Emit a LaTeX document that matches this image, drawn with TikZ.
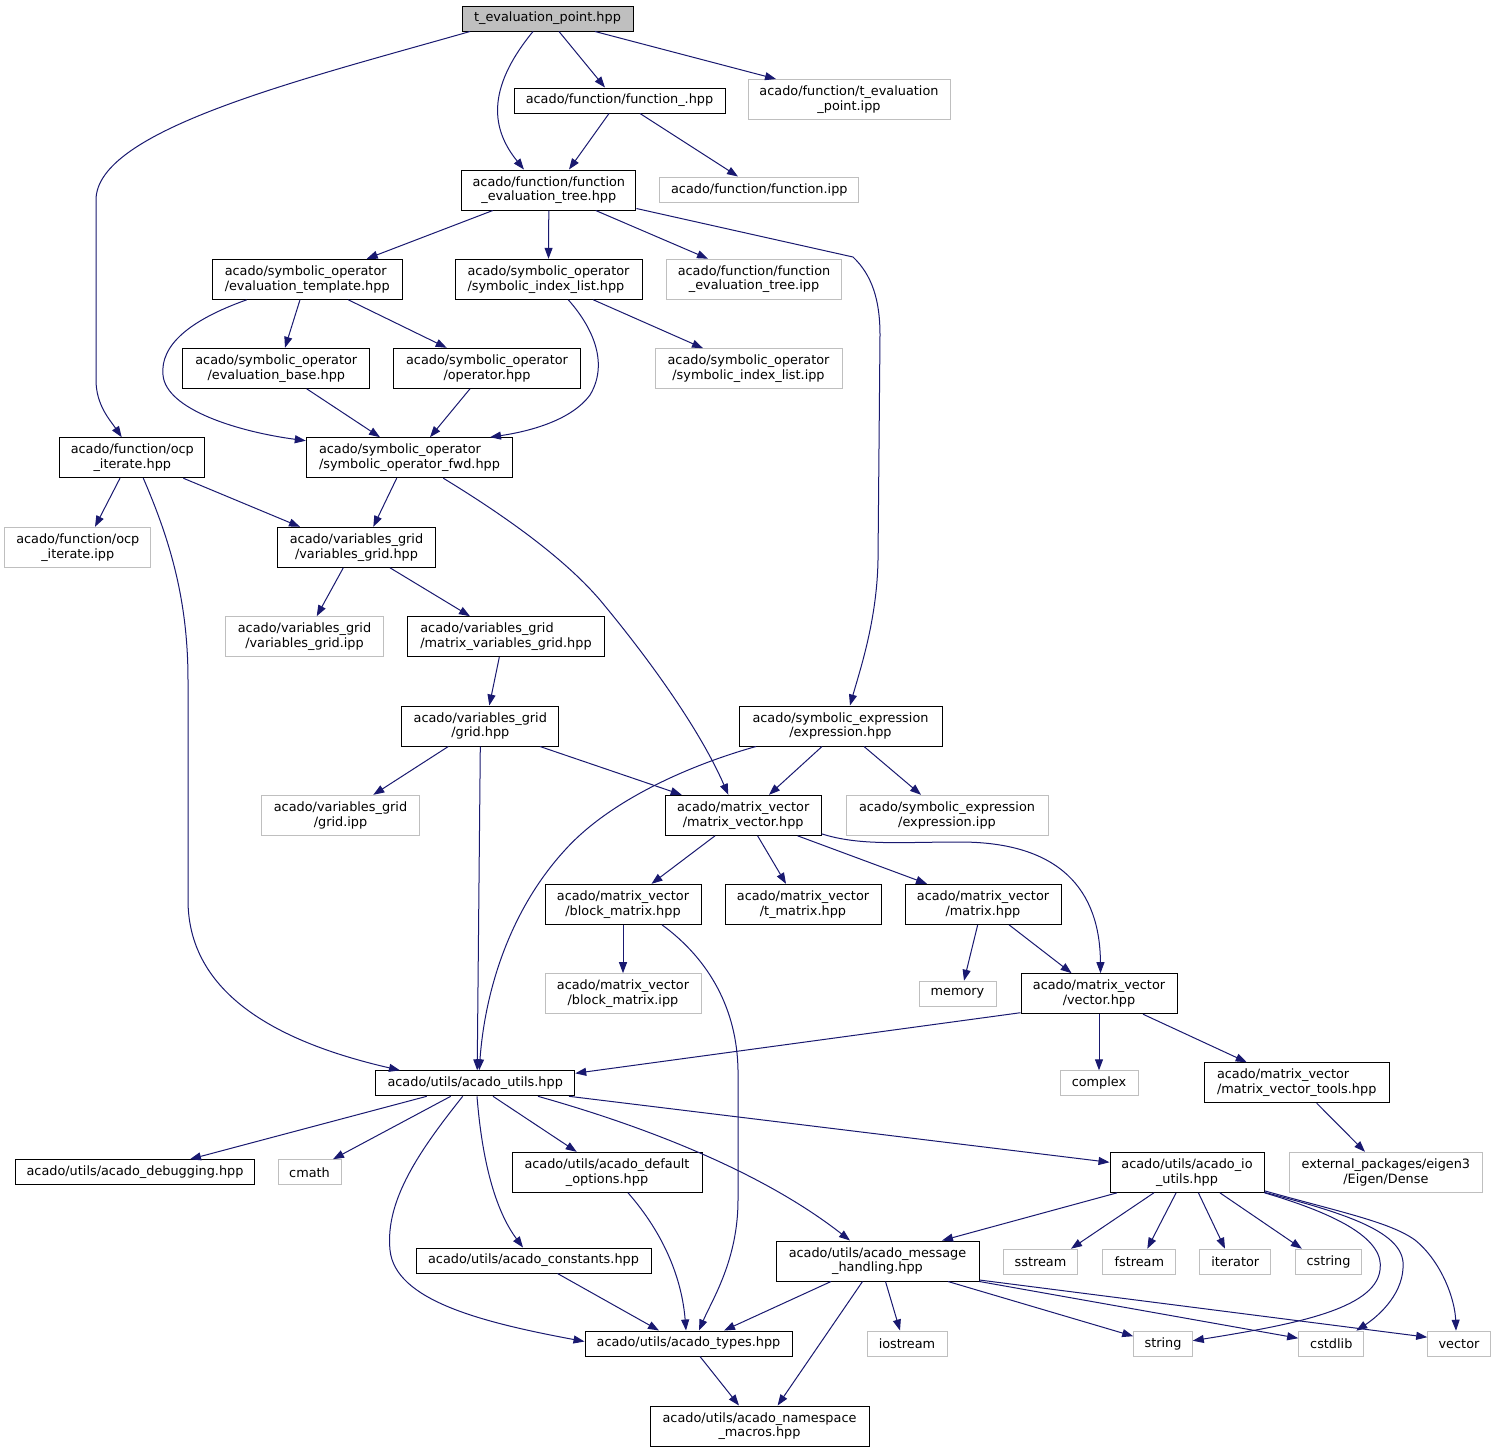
\documentclass[tikz,border=0pt]{standalone}
\usepackage{fontspec}
\setmainfont{DejaVu Sans}
\usetikzlibrary{arrows.meta}
\definecolor{edgecol}{HTML}{191970}
\definecolor{graybd}{HTML}{BFBFBF}
\definecolor{hdrfill}{HTML}{BFBFBF}
\newcommand\myfs{\fontsize{12.85}{14.7}\selectfont}
\newcommand\mkbox[7]{\node[#1,minimum width=#5pt,minimum height=#6pt] (#2) at (#3,#4) {#7};}
\tikzset{
  hdr/.style={draw=black, fill=hdrfill, line width=1pt, inner sep=0pt, font=\myfs, align=center},
  blk/.style={draw=black, fill=white, line width=1pt, inner sep=0pt, font=\myfs, align=center},
  gry/.style={draw=graybd, fill=white, line width=1pt, inner sep=0pt, font=\myfs, align=center},
  lft/.style={align=left},
  link/.style={draw=edgecol, line width=1pt, -{Triangle[length=11pt,width=8pt]}},
}
\begin{document}
\begin{tikzpicture}[x=1pt,y=-1pt]
\useasboundingbox[fill=white] (0,0) rectangle (1496,1452);
% nodes
\mkbox{hdr}{tep}{547.5}{18.5}{171}{25}{t\_evaluation\_point.hpp}
\mkbox{blk}{func}{619.5}{100.5}{211}{25}{acado/function/function\_.hpp}
\mkbox{gry}{tepipp}{849}{99.5}{202}{40}{acado/function/t\_evaluation\\\_point.ipp}
\mkbox{blk}{fet}{548.8}{190}{174.3}{40}{acado/function/function\\\_evaluation\_tree.hpp}
\mkbox{gry}{funcipp}{759.3}{189.5}{198.7}{25}{acado/function/function.ipp}
\mkbox{blk,lft}{evtpl}{307.2}{279.3}{189.7}{40}{acado/symbolic\_operator\\/evaluation\_template.hpp}
\mkbox{blk,lft}{silh}{548.5}{279.3}{187}{40}{acado/symbolic\_operator\\/symbolic\_index\_list.hpp}
\mkbox{gry}{fetipp}{754}{279.2}{174.6}{40}{acado/function/function\\\_evaluation\_tree.ipp}
\mkbox{blk}{evbase}{276.3}{368.3}{186.7}{40}{acado/symbolic\_operator\\/evaluation\_base.hpp}
\mkbox{blk}{oper}{487}{368.3}{186.6}{40}{acado/symbolic\_operator\\/operator.hpp}
\mkbox{gry}{silipp}{748.5}{368.7}{187}{40}{acado/symbolic\_operator\\/symbolic\_index\_list.ipp}
\mkbox{blk}{ocph}{132.3}{457.7}{145.3}{40}{acado/function/ocp\\\_iterate.hpp}
\mkbox{blk,lft}{sofwd}{409.5}{457.7}{206.4}{40}{acado/symbolic\_operator\\/symbolic\_operator\_fwd.hpp}
\mkbox{gry}{ocpipp}{77.8}{547.3}{145.7}{40}{acado/function/ocp\\\_iterate.ipp}
\mkbox{blk}{vgh}{356.5}{547.3}{157.6}{40}{acado/variables\_grid\\/variables\_grid.hpp}
\mkbox{gry}{vgipp}{304.5}{636.7}{157.6}{40}{acado/variables\_grid\\/variables\_grid.ipp}
\mkbox{blk,lft}{mvgh}{506}{636.7}{196.6}{40}{acado/variables\_grid\\/matrix\_variables\_grid.hpp}
\mkbox{blk}{gridh}{480.3}{726}{157.3}{40}{acado/variables\_grid\\/grid.hpp}
\mkbox{blk}{exprh}{840.5}{726}{203}{40}{acado/symbolic\_expression\\/expression.hpp}
\mkbox{gry}{gridipp}{340.5}{815.3}{157.6}{40}{acado/variables\_grid\\/grid.ipp}
\mkbox{blk}{mvh}{743.2}{815.3}{155.6}{40}{acado/matrix\_vector\\/matrix\_vector.hpp}
\mkbox{gry}{expripp}{947}{815.3}{202}{40}{acado/symbolic\_expression\\/expression.ipp}
\mkbox{blk}{bmh}{623}{904.3}{156}{40}{acado/matrix\_vector\\/block\_matrix.hpp}
\mkbox{blk}{tmh}{803}{904.3}{156}{40}{acado/matrix\_vector\\/t\_matrix.hpp}
\mkbox{blk}{mh}{983}{904.3}{156}{40}{acado/matrix\_vector\\/matrix.hpp}
\mkbox{gry}{bmipp}{623}{993.7}{156}{40}{acado/matrix\_vector\\/block\_matrix.ipp}
\mkbox{gry}{memory}{957.5}{993.7}{77}{25}{memory}
\mkbox{blk}{vech}{1099}{993.7}{156}{40}{acado/matrix\_vector\\/vector.hpp}
\mkbox{blk}{utils}{475.2}{1083.3}{199}{25}{acado/utils/acado\_utils.hpp}
\mkbox{gry}{complex}{1099}{1083.3}{78}{25}{complex}
\mkbox{blk,lft}{mvt}{1296.7}{1082.7}{184.7}{40}{acado/matrix\_vector\\/matrix\_vector\_tools.hpp}
\mkbox{blk}{dbg}{135}{1172.2}{238.6}{25}{acado/utils/acado\_debugging.hpp}
\mkbox{gry}{cmath}{309.5}{1172.2}{63}{25}{cmath}
\mkbox{blk}{defopt}{607}{1172.3}{190}{40}{acado/utils/acado\_default\\\_options.hpp}
\mkbox{blk}{ioutils}{1187}{1172.3}{154}{40}{acado/utils/acado\_io\\\_utils.hpp}
\mkbox{gry}{eigen}{1385.9}{1172.3}{193.7}{40}{external\_packages/eigen3\\/Eigen/Dense}
\mkbox{blk}{consts}{533.5}{1260.5}{235}{25}{acado/utils/acado\_constants.hpp}
\mkbox{blk}{msg}{877.5}{1261}{203}{40}{acado/utils/acado\_message\\\_handling.hpp}
\mkbox{gry}{sstream}{1040.5}{1261.7}{74.4}{25}{sstream}
\mkbox{gry}{fstream}{1139.3}{1261.7}{73.3}{25}{fstream}
\mkbox{gry}{iterator}{1235.3}{1261.7}{70.7}{25}{iterator}
\mkbox{gry}{cstring}{1328.5}{1261.7}{66.4}{25}{cstring}
\mkbox{blk}{types}{688.5}{1343.5}{207}{25}{acado/utils/acado\_types.hpp}
\mkbox{gry}{iostream}{907}{1343.5}{80}{25}{iostream}
\mkbox{gry}{string}{1163}{1343.7}{58.6}{25}{string}
\mkbox{gry}{cstdlib}{1331.3}{1343.7}{65.3}{25}{cstdlib}
\mkbox{gry}{vector}{1459}{1343.7}{62.6}{25}{vector}
\mkbox{blk}{macros}{759.5}{1426}{219}{40}{acado/utils/acado\_namespace\\\_macros.hpp}
% edges
\path[link] ([xshift=-77.5pt]tep.south) .. controls (300,80) and (96,130) .. (96,200) -- (96,380) .. controls (96,405) and (110,420) .. ([xshift=-10.6pt]ocph.north);
\path[link] ([xshift=-14.5pt]tep.south) .. controls (485,90) and (492,130) .. ([xshift=-24.8pt]fet.north);
\path[link] ([xshift=11.5pt]tep.south) -- ([xshift=-14.5pt]func.north);
\path[link] ([xshift=47.5pt]tep.south) -- ([xshift=-73pt]tepipp.north);
\path[link] ([xshift=-10.5pt]func.south) -- ([xshift=20.2pt]fet.north);
\path[link] ([xshift=20.5pt]func.south) -- ([xshift=-21.3pt]funcipp.north);
\path[link] ([xshift=-56pt]fet.south) -- ([xshift=59.5pt]evtpl.north);
\path[link] (fet.south) -- (silh.north);
\path[link] ([xshift=46.9pt]fet.south) -- ([xshift=-46pt]fetipp.north);
\path[link] ([yshift=2pt]fet.south east) -- (853,257) .. controls (872,275) and (880,300) .. (880,335) -- (878,560) .. controls (877,620) and (860,670) .. ([xshift=9.5pt]exprh.north);
\path[link] ([xshift=-7.2pt]evtpl.south) -- ([xshift=8.7pt]evbase.north);
\path[link] ([xshift=41.1pt]evtpl.south) -- ([xshift=-40.3pt]oper.north);
\path[link] ([xshift=-60.5pt]evtpl.south) .. controls (190,320) and (160,345) .. (163,375) .. controls (166,410) and (240,432) .. ([yshift=-3.5pt]sofwd.north west);
\path[link] ([xshift=44.8pt]silh.south) -- ([xshift=-45.5pt]silipp.north);
\path[link] ([xshift=19.8pt]silh.south) .. controls (595,330) and (608,365) .. (590,395) .. controls (570,422) and (525,432) .. ([xshift=80.5pt]sofwd.north);
\path[link] ([xshift=30.4pt]evbase.south) -- ([xshift=-29.5pt]sofwd.north);
\path[link] ([xshift=-17pt]oper.south) -- ([xshift=20.5pt]sofwd.north);
\path[link] ([xshift=-12.3pt]ocph.south) -- ([xshift=17.2pt]ocpipp.north);
\path[link] ([xshift=51pt]ocph.south) -- ([xshift=-56.5pt]vgh.north);
\path[link] ([xshift=11pt]ocph.south) .. controls (170,540) and (188,600) .. (188,680) -- (188,900) .. controls (188,1000) and (290,1045) .. ([xshift=-75.2pt]utils.north);
\path[link] ([xshift=-12.8pt]sofwd.south) -- ([xshift=16.8pt]vgh.north);
\path[link] ([xshift=33.8pt]sofwd.south) .. controls (520,525) and (570,565) .. (600,600) .. controls (650,660) and (700,730) .. ([xshift=-14.9pt]mvh.north);
\path[link] ([xshift=-13.2pt]vgh.south) -- ([xshift=12.2pt]vgipp.north);
\path[link] ([xshift=33.5pt]vgh.south) -- ([xshift=-36pt]mvgh.north);
\path[link] ([xshift=-6.7pt]mvgh.south) -- ([xshift=9pt]gridh.north);
\path[link] ([xshift=-32pt]gridh.south) -- ([xshift=32.8pt]gridipp.north);
\path[link] (gridh.south) -- ([xshift=2pt]utils.north);
\path[link] ([xshift=59.7pt]gridh.south) -- ([xshift=-61.5pt]mvh.north);
\path[link] ([xshift=-18.5pt]exprh.south) -- ([xshift=25.8pt]mvh.north);
\path[link] ([xshift=23.5pt]exprh.south) -- ([xshift=-26pt]expripp.north);
\path[link] ([xshift=-84.5pt]exprh.south) .. controls (690,765) and (610,800) .. (565,850) .. controls (510,910) and (485,990) .. ([xshift=4pt]utils.north);
\path[link] ([xshift=-28.2pt]mvh.south) -- ([xshift=28.5pt]bmh.north);
\path[link] ([xshift=14.4pt]mvh.south) -- ([xshift=-17pt]tmh.north);
\path[link] ([xshift=54.4pt]mvh.south) -- ([xshift=-56pt]mh.north);
\path[link] ([yshift=2pt]mvh.south east) .. controls (860,846) and (900,842) .. (960,842) .. controls (1060,842) and (1100,890) .. ([xshift=1.5pt]vech.north);
\path[link] (bmh.south) -- (bmipp.north);
\path[link] ([xshift=39pt]bmh.south) .. controls (710,960) and (737,1010) .. (738,1070) -- (738,1200) .. controls (738,1260) and (712,1300) .. ([xshift=10.5pt]types.north);
\path[link] ([xshift=-5.3pt]mh.south) -- ([xshift=6.5pt]memory.north);
\path[link] ([xshift=26pt]mh.south) -- ([xshift=-27.4pt]vech.north);
\path[link] ([yshift=1.5pt]vech.south west) -- ([yshift=10pt]utils.east);
\path[link] (vech.south) -- (complex.north);
\path[link] ([xshift=44pt]vech.south) -- ([xshift=-50pt]mvt.north);
\path[link] ([xshift=20pt]mvt.south) -- ([xshift=-20.9pt]eigen.north);
\path[link] ([xshift=-48.5pt]utils.south) -- ([xshift=55pt]dbg.north);
\path[link] ([xshift=-24.5pt]utils.south) -- ([xshift=23.5pt]cmath.north);
\path[link] ([xshift=-12.5pt]utils.south) .. controls (420,1150) and (385,1200) .. (390,1250) .. controls (395,1300) and (480,1322) .. ([yshift=2pt]types.west);
\path[link] ([xshift=1.8pt]utils.south) .. controls (482,1160) and (495,1210) .. ([xshift=-10.5pt]consts.north);
\path[link] ([xshift=17.8pt]utils.south) -- ([xshift=-30.3pt]defopt.north);
\path[link] ([xshift=62.8pt]utils.south) .. controls (640,1125) and (760,1170) .. ([xshift=-27.5pt]msg.north);
\path[link] ([xshift=93.8pt]utils.south) -- ([yshift=10pt]ioutils.west);
\path[link] ([xshift=21pt]defopt.south) .. controls (665,1235) and (682,1280) .. ([xshift=-2.5pt]types.north);
\path[link] ([xshift=24pt]consts.south) -- ([xshift=-29.5pt]types.north);
\path[link] ([xshift=-69.9pt]ioutils.south) -- ([xshift=64.5pt]msg.north);
\path[link] ([xshift=-33.1pt]ioutils.south) -- ([xshift=30.5pt]sstream.north);
\path[link] ([xshift=-10.9pt]ioutils.south) -- ([xshift=8pt]fstream.north);
\path[link] ([xshift=11.4pt]ioutils.south) -- ([xshift=-10.3pt]iterator.north);
\path[link] ([xshift=32.9pt]ioutils.south) -- ([xshift=-26.6pt]cstring.north);
\path[link] (ioutils.south east) .. controls (1340,1215) and (1385,1240) .. (1380,1270) .. controls (1375,1310) and (1290,1325) .. ([yshift=3pt]string.east);
\path[link] ([yshift=0.5pt]ioutils.south east) .. controls (1340,1212) and (1400,1230) .. (1403,1262) .. controls (1405,1292) and (1380,1315) .. ([xshift=25pt]cstdlib.north);
\path[link] ([yshift=2pt]ioutils.south east) .. controls (1340,1212) and (1390,1222) .. (1415,1240) .. controls (1442,1262) and (1455,1300) .. ([xshift=-3pt]vector.north);
\path[link] ([xshift=-46.5pt]msg.south) -- ([xshift=35.5pt]types.north);
\path[link] ([xshift=-15pt]msg.south) -- ([xshift=18.1pt]macros.north);
\path[link] ([xshift=8pt]msg.south) -- ([xshift=-7pt]iostream.north);
\path[link] ([xshift=70.5pt]msg.south) -- ([yshift=7.5pt]string.west);
\path[link] (msg.south east) -- ([yshift=5.5pt]cstdlib.west);
\path[link] ([yshift=1.5pt]msg.south east) -- ([yshift=6.5pt]vector.west);
\path[link] ([xshift=11.5pt]types.south) -- ([xshift=-20.5pt]macros.north);
\end{tikzpicture}
\end{document}
